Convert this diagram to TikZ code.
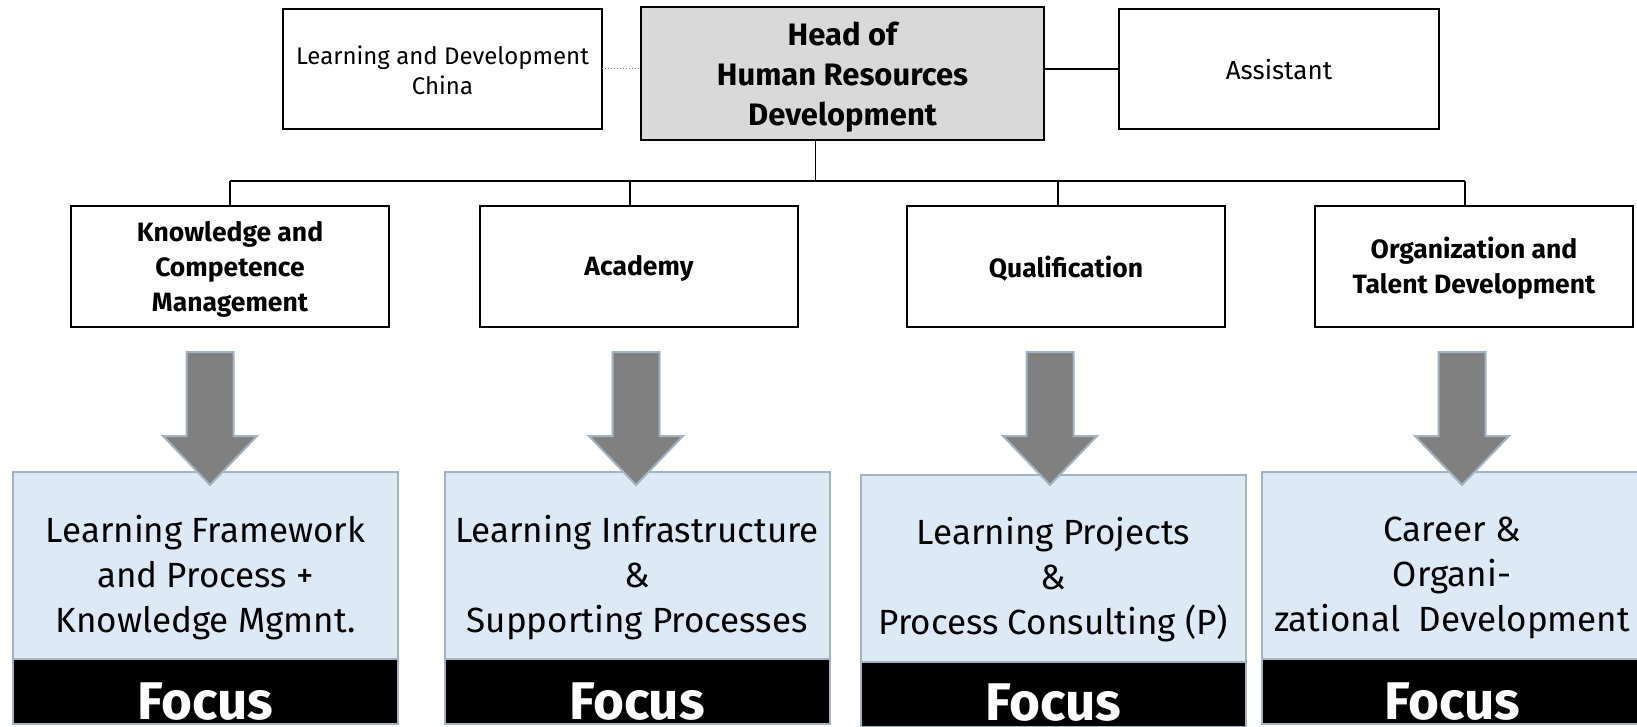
\documentclass[tikz,border=0pt]{standalone}
\usepackage{fontspec}
\setmainfont{Fira Sans}
\definecolor{headgray}{HTML}{D9D9D9}
\definecolor{lightblue}{HTML}{DDEAF6}
\definecolor{boxedge}{HTML}{A3B3C2}
\definecolor{arrowgray}{HTML}{808080}
\tikzset{
  orgbox/.style={draw=black, line width=2pt, fill=white, inner sep=0pt, outer sep=0pt, align=center},
  lvltwo/.style={orgbox, minimum width=318pt, minimum height=121pt},
  lvltwotext/.style={font=\fontsize{26.5}{35}\bfseries\selectfont, align=center},
  focusbox/.style={draw=boxedge, line width=2pt, fill=lightblue, inner sep=0pt, outer sep=0pt, minimum width=385pt, minimum height=187pt},
  focusband/.style={draw=boxedge, line width=2pt, fill=black, inner sep=0pt, outer sep=0pt, minimum width=385pt, minimum height=65pt},
  conn/.style={line width=1.3pt, draw=black},
  bigarrow/.style={fill=arrowgray, draw=boxedge, line width=2pt, line join=miter},
  focustext/.style={font=\fontsize{35}{45}\selectfont, align=center, text=black},
  focusword/.style={font=\fontsize{53}{53}\bfseries\selectfont, text=white, inner sep=0pt, text depth=0pt, text height=37pt}
}
\begin{document}
\begin{tikzpicture}[x=1pt, y=-1pt]
\useasboundingbox (0,0) rectangle (1637,727);
\clip (0,0) rectangle (1637,727);
% top row
\node[orgbox, minimum width=319pt, minimum height=120pt] (ldc) at (442.5,69) {};
\node[font=\fontsize{24}{30}\selectfont, align=center] (ldct) at ([yshift=-1pt]ldc.center) {Learning and Development\\China};
\node[orgbox, fill=headgray, minimum width=403pt, minimum height=133pt] (head) at (842.5,73.5) {};
\node[font=\fontsize{31}{40}\bfseries\selectfont, align=center] (headt) at ([yshift=-4pt]head.center) {Head of\\Human Resources\\Development};
\node[orgbox, minimum width=320pt, minimum height=120pt] (asst) at (1279,69) {};
\node[font=\fontsize{26}{30}\selectfont] (asstt) at ([yshift=-1pt]asst.center) {Assistant};
% second row
\node[lvltwo] (kcm) at (230,266.5) {};
\node[lvltwotext] at ([yshift=-3pt]kcm.center) {Knowledge and\\Competence\\Management};
\node[lvltwo] (acad) at (639,266.5) {};
\node[lvltwotext] at ([yshift=-2pt]acad.center) {Academy};
\node[lvltwo] (qual) at (1066,266.5) {};
\node[lvltwotext] at ([yshift=-2pt]qual.center) {Qualification};
\node[lvltwo] (otd) at (1474,266.5) {};
\node[lvltwotext] at ([yshift=-2pt]otd.center) {Organization and\\Talent Development};
% connectors
\draw[dotted, gray, line width=1pt] (ldc.east) -- (head.west |- ldc.east);
\draw[conn] (head.east |- asst.west) -- (asst.west);
\coordinate (bus) at (815,181);
\draw[conn] ([xshift=-27pt]head.south) -- ([xshift=-27pt]head.south |- bus);
\draw[conn] (kcm.north |- bus) -- ([xshift=-9pt]otd.north |- bus);
\draw[conn] (kcm.north) -- (kcm.north |- bus);
\draw[conn] ([xshift=-9pt]acad.north) -- ([xshift=-9pt]acad.north |- bus);
\draw[conn] ([xshift=-8pt]qual.north) -- ([xshift=-8pt]qual.north |- bus);
\draw[conn] ([xshift=-9pt]otd.north) -- ([xshift=-9pt]otd.north |- bus);
% focus boxes
\node[focusbox] (f1) at (205.5,565.5) {};
\node[focusband, anchor=north] (b1) at (f1.south) {};
\node[focusbox] (f2) at (637,565.5) {};
\node[focusband, anchor=north] (b2) at (f2.south) {};
\node[focusbox] (f3) at (1053.5,568) {};
\node[focusband, anchor=north] (b3) at (f3.south) {};
\node[focusbox, minimum width=400pt] (f4) at (1462,565.5) {};
\node[focusband, minimum width=400pt, anchor=north] (b4) at (f4.south) {};
% arrows
\foreach \cx in {210,636,1050,1462} {
  \draw[bigarrow] (\cx-23.5,352) -- (\cx+23.5,352) -- (\cx+23.5,436) -- (\cx+47,436) -- (\cx,485) -- (\cx-47,436) -- (\cx-23.5,436) -- cycle;
}
% texts
\node[focustext] (t1) at ([yshift=-12pt]f1.center) {Learning Framework\\and Process +\\Knowledge Mgmnt.};
\node[focustext] (t2) at ([yshift=-12pt]f2.center) {Learning Infrastructure\\\&\\Supporting Processes};
\node[focustext] (t3) at ([yshift=-12pt]f3.center) {Learning Projects\\\&\\Process Consulting (P)};
\node[focustext] (t4) at (1452,578) {Career \&\\Organi-\\zational\ \ Development};
\node[focusword, anchor=base] (w1) at ([yshift=-60pt]b1.north) {Focus};
\node[focusword, anchor=base] (w2) at ([yshift=-60pt]b2.north) {Focus};
\node[focusword, anchor=base] (w3) at ([yshift=-59pt]b3.north) {Focus};
\node[focusword, anchor=base] (w4) at ([yshift=-60pt,xshift=-10pt]b4.north) {Focus};
\end{tikzpicture}
\end{document}
